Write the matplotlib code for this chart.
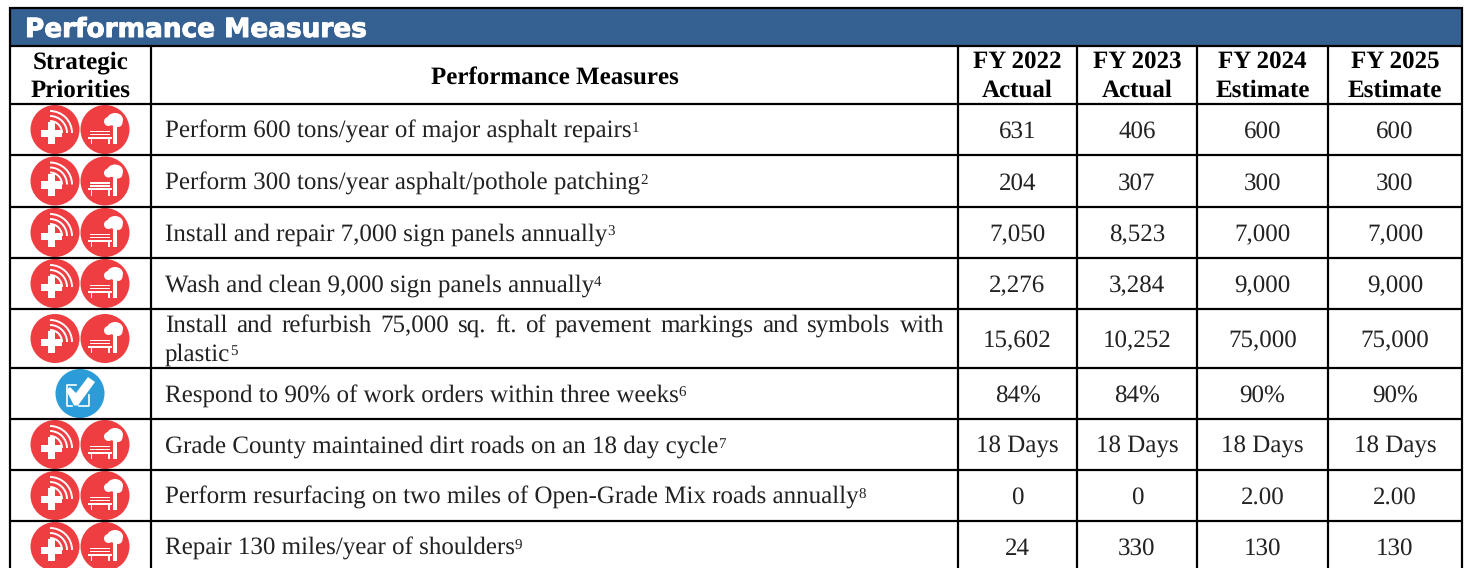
import matplotlib
matplotlib.use("Agg")
import matplotlib.pyplot as plt
import matplotlib.patheffects as pe
from matplotlib.patches import Circle, Rectangle, Arc, Ellipse, Polygon

plt.rcParams["text.hinting"] = "no_hinting"
plt.rcParams["text.hinting_factor"] = 1

# table content
title = "Performance Measures"
headers = ["FY 2022\nActual", "FY 2023\nActual", "FY 2024\nEstimate", "FY 2025\nEstimate"]
measures = [
    "Perform 600 tons/year of major asphalt repairs",
    "Perform 300 tons/year asphalt/pothole patching",
    "Install and repair 7,000 sign panels annually",
    "Wash and clean 9,000 sign panels annually",
    "Install and refurbish 75,000 sq. ft. of pavement markings and symbols with\nplastic",
    "Respond to 90% of work orders within three weeks",
    "Grade County maintained dirt roads on an 18 day cycle",
    "Perform resurfacing on two miles of Open-Grade Mix roads annually",
    "Repair 130 miles/year of shoulders",
]
notes = ["1", "2", "3", "4", "5", "6", "7", "8", "9"]
fy2022 = ["631", "204", "7,050", "2,276", "15,602", "84%", "18 Days", "0", "24"]
fy2023 = ["406", "307", "8,523", "3,284", "10,252", "84%", "18 Days", "0", "330"]
fy2024 = ["600", "300", "7,000", "9,000", "75,000", "90%", "18 Days", "2.00", "130"]
fy2025 = ["600", "300", "7,000", "9,000", "75,000", "90%", "18 Days", "2.00", "130"]
priority = ["red", "red", "red", "red", "red", "blue", "red", "red", "red"]

# pixel grid of the table
col_x = [10, 151, 958, 1077, 1197, 1328, 1462]
row_y = [46, 104, 155, 207, 258, 309, 368, 419, 470, 521, 572]

RED = "#ef3e42"
BLUE = "#2b9cd8"
NAVY = "#356092"
SERIF = "Liberation Serif"
BODY = 18.1
HEAD = 18.2
TXT = "#222222"

fig = plt.figure(figsize=(14.65, 5.68), dpi=100)
ax = fig.add_axes([0, 0, 1, 1])
ax.set_xlim(0, 1465)
ax.set_ylim(568, 0)
ax.axis("off")
rend = fig.canvas.get_renderer()


def line(x0, y0, x1, y1, lw=2.2):
    ax.plot([x0, x1], [y0, y1], color="black", lw=lw * 0.72, solid_capstyle="butt", zorder=4)


def text_w(s, size):
    t = ax.text(0, 0, s, fontsize=size, family=SERIF)
    w = t.get_window_extent(rend).width
    t.remove()
    return w


def head(cx, y, s):
    ax.text(cx, y, s, fontsize=HEAD, family=SERIF, weight="bold", ha="center", va="baseline", color="black")


def red_icons(cy):
    # first circle, cross with signal arcs
    cx = 55
    ax.add_patch(Circle((cx, cy), 24.5, color=RED, lw=0, zorder=2))
    ax.add_patch(Rectangle((cx - 14, cy), 21, 7.5, color="white", lw=0, zorder=3))
    ax.add_patch(Rectangle((cx - 7.5, cy - 7.5), 7.5, 22, color="white", lw=0, zorder=3))
    for rad in [12, 17, 22]:
        ax.add_patch(Arc((cx - 5, cy + 3.5), rad * 2, rad * 2, theta1=-90, theta2=0,
                         color="white", lw=1.4, zorder=3))
    # second circle, bench and tree
    cx = 105
    ax.add_patch(Circle((cx, cy), 24.5, color=RED, lw=0, zorder=2))
    ax.add_patch(Rectangle((cx + 8, cy - 5), 4, 19.5, color="white", lw=0, zorder=3))
    ax.add_patch(Ellipse((cx + 10, cy - 10), 16, 13, color="white", lw=0, zorder=3))
    ax.add_patch(Circle((cx + 3.5, cy - 8), 4.5, color="white", lw=0, zorder=3))
    ax.add_patch(Circle((cx + 13, cy - 7), 4.5, color="white", lw=0, zorder=3))
    for dy in [1, 4]:
        ax.add_patch(Rectangle((cx - 15, cy + dy), 20, 1.5, color="white", lw=0, zorder=3))
    ax.add_patch(Rectangle((cx - 17, cy + 7), 24, 2.2, color="white", lw=0, zorder=3))
    ax.add_patch(Rectangle((cx - 14.5, cy + 9), 1.5, 5.5, color="white", lw=0, zorder=3))
    ax.add_patch(Rectangle((cx + 3, cy + 9), 1.5, 5.5, color="white", lw=0, zorder=3))


def blue_icon(cy):
    cx = 80
    ax.add_patch(Circle((cx, cy), 24.5, color=BLUE, lw=0, zorder=2))
    ax.plot([cx - 4, cx - 13, cx - 13, cx - 8], [cy - 8.5, cy - 8.5, cy + 12.5, cy + 12.5],
            color="white", lw=1.2, zorder=3)
    ax.plot([cx - 1, cx + 9, cx + 9], [cy + 12.5, cy + 12.5, cy + 1], color="white", lw=1.2, zorder=3)
    ax.plot([cx + 6, cx + 9], [cy - 8.5, cy - 8.5], color="white", lw=1.2, zorder=3)
    ax.add_patch(Polygon([(cx - 14, cy - 3.5), (cx - 10, cy - 6.5), (cx - 4, cy - 0.5), (cx + 8, cy - 16.5),
                          (cx + 15, cy - 11.5), (cx - 2, cy + 12), (cx - 6, cy + 12)],
                         color="white", lw=0, zorder=3))


# title band
ax.add_patch(Rectangle((10, 8), 1452, 38, color=NAVY, lw=0, zorder=1))
ax.text(25, 37, title, fontsize=18.95, family="DejaVu Sans", weight="bold", color="white", va="baseline",
        path_effects=[pe.withStroke(linewidth=0.7, foreground="white")])

# grid
line(9, 7.5, 1463, 7.5)
for y in row_y[:-1]:
    line(9, y, 1463, y)
for x in col_x:
    if x == col_x[0] or x == col_x[-1]:
        line(x, 7, x, 46)
    line(x, 46, x, 568)

# header row
head(81, 68, "Strategic")
head(81, 97, "Priorities")
head(554.5, 84, "Performance Measures")
for i, h in enumerate(headers):
    cx = (col_x[i + 2] + col_x[i + 3]) / 2
    l1, l2 = h.split("\n")
    head(cx, 68, l1)
    head(cx, 97, l2)

# body rows
for i, m in enumerate(measures):
    top, bot = row_y[i + 1], row_y[i + 2]
    cy = (top + bot) / 2
    if priority[i] == "red":
        red_icons(cy)
    else:
        blue_icon(cy)
    if "\n" in m:
        l1, l2 = m.split("\n")
        words = l1.split(" ")
        # justified first line
        ws = [text_w(wd, BODY) for wd in words]
        gap = (944 - 165 - sum(ws)) / (len(words) - 1)
        x = 165
        for wd, wdt in zip(words, ws):
            ax.text(x, cy - 6.5, wd, fontsize=BODY, family=SERIF, va="baseline", color=TXT)
            x += wdt + gap
        ax.text(165, cy + 22, l2, fontsize=BODY, family=SERIF, va="baseline", color=TXT)
        ax.text(165 + text_w(l2, BODY), cy + 16.5, notes[i], fontsize=BODY * 0.58, family=SERIF, va="baseline", color=TXT)
    else:
        ax.text(165, cy + 8.5, m, fontsize=BODY, family=SERIF, va="baseline", color=TXT)
        ax.text(165 + text_w(m, BODY), cy + 3, notes[i], fontsize=BODY * 0.58, family=SERIF, va="baseline", color=TXT)
    for j, col in enumerate([fy2022, fy2023, fy2024, fy2025]):
        cx = (col_x[j + 2] + col_x[j + 3]) / 2
        ax.text(cx, cy + 8.5, col[i], fontsize=BODY, family=SERIF, ha="center", va="baseline", color=TXT)

fig.savefig("out.png", dpi=100)
